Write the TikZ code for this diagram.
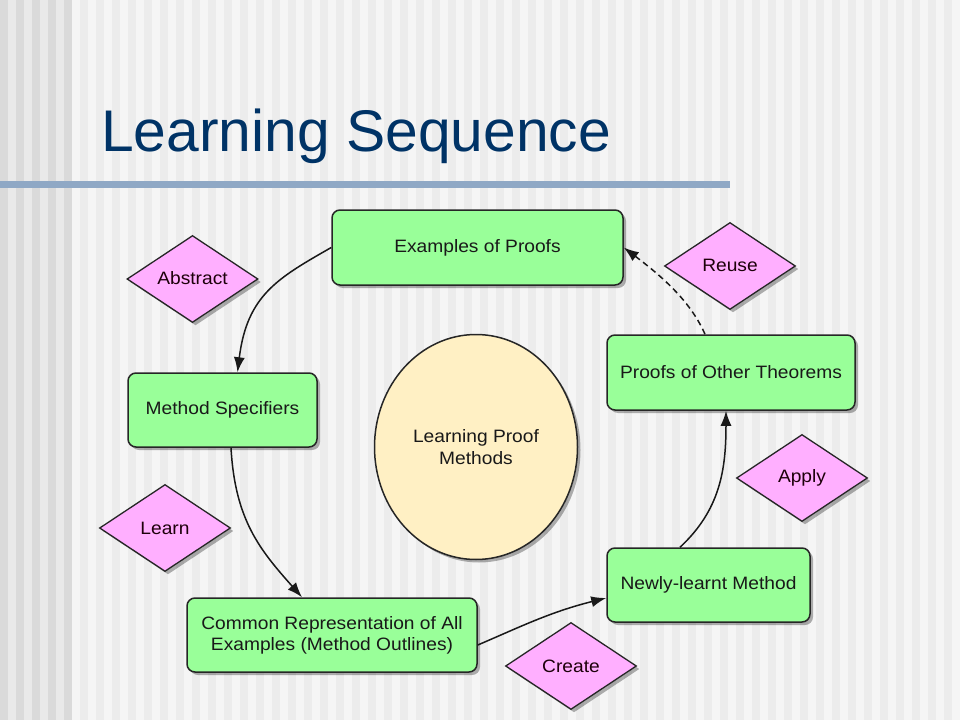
\documentclass[tikz,border=0pt]{standalone}
\usepackage{fontspec}
\setmainfont{Liberation Sans}
\newfontfamily\boxfont[FakeStretch=1.07]{Liberation Sans}
\usetikzlibrary{shapes.geometric,shadows,arrows.meta}
\definecolor{boxgreen}{RGB}{153,255,153}
\definecolor{diapink}{RGB}{255,175,255}
\definecolor{ellyellow}{RGB}{255,240,196}
\definecolor{titleblue}{RGB}{0,51,102}
\definecolor{rulecol}{RGB}{143,168,197}
\definecolor{leftdark}{RGB}{218,218,218}
\definecolor{leftlight}{RGB}{233,233,233}
\definecolor{bglight}{RGB}{245,245,245}
\definecolor{bggray}{RGB}{236,236,236}
\definecolor{textdark}{RGB}{25,25,25}
\tikzset{
  shad/.style={drop shadow={shadow xshift=3bp,shadow yshift=-3bp,fill=black,opacity=0.3}},
  greenbox/.style={rectangle, rounded corners=8bp, draw=black!85, line width=1.5bp,
    fill=boxgreen, shad, inner sep=0pt, align=center, text=textdark,
    font=\boxfont\fontsize{18}{21}\selectfont},
  pinkdia/.style={diamond, draw=black!85, line width=1.3bp, fill=diapink, shad,
    inner sep=0pt, minimum width=131bp, minimum height=87bp, text=black!85!purple,
    font=\boxfont\fontsize{18}{21}\selectfont},
  conn/.style={draw=black!90, line width=1.5bp, -{Latex[length=15bp,width=11bp]}},
}
\begin{document}
\begin{tikzpicture}[x=1bp,y=-1bp]
\useasboundingbox (0,0) rectangle (960,720);
% background stripes
\fill[leftlight] (0,0) rectangle (72,720);
\foreach \i in {0,16,...,64} \fill[leftdark] (\i,0) rectangle ++(8,720);
\fill[bglight] (72,0) rectangle (960,720);
\foreach \i in {80,96,...,944} \fill[bggray] (\i,0) rectangle ++(8,720);
% title and rule
\node[anchor=base west, inner sep=0pt, text=titleblue,
  font=\fontsize{59}{60}\selectfont] (title) at (101,152) {Learning Sequence};
\fill[rulecol] (0,181) rectangle (730,188);
% boxes
\node[greenbox, minimum width=291bp, minimum height=75bp] (ex) at (477.5,247.5) {Examples of Proofs};
\node[greenbox, minimum width=189bp, minimum height=74bp] (ms) at (222.5,410) {Method Specifiers};
\node[greenbox, minimum width=290bp, minimum height=74bp] (cr) at (332,635) {Common Representation of All\\Examples (Method Outlines)};
\node[greenbox, minimum width=203bp, minimum height=74bp] (nl) at (708.5,585) {Newly-learnt Method};
\node[greenbox, minimum width=248bp, minimum height=75bp] (po) at (731,372.5) {Proofs of Other Theorems};
% ellipse
\node[ellipse, draw=black!85, line width=1.5bp, fill=ellyellow, shad, inner sep=0pt,
  minimum width=203bp, minimum height=225bp, align=center, text=textdark,
  font=\boxfont\fontsize{18}{22}\selectfont] (lp) at (476,447) {Learning Proof\\Methods};
% diamonds
\node[pinkdia] (abs) at (192.5,279) {\raisebox{2bp}{Abstract}};
\node[pinkdia] (reu) at (730,266) {\raisebox{2bp}{Reuse}};
\node[pinkdia] (lea) at (165,528) {Learn};
\node[pinkdia] (app) at (802,478) {Apply};
\node[pinkdia] (cre) at (571,666) {Create};
% connectors
\draw[conn] (ex.west) .. controls (278,278) and (247,295) .. ([xshift=15bp]ms.north);
\draw[conn] ([xshift=8.5bp]ms.south) .. controls (235,520) and (260,550) .. ([xshift=-30bp]cr.north);
\draw[conn] ([yshift=-10bp]cr.east) .. controls (520,627) and (550,612) .. ([yshift=-13bp]nl.west);
\draw[conn] ([xshift=-28.5bp]nl.north) .. controls (720,510) and (726,470) .. ([xshift=-5bp]po.south);
\draw[conn, dash pattern=on 6bp off 4bp] ([xshift=-26bp]po.north) .. controls (690,300) and (660,275) .. (ex.east);
\end{tikzpicture}
\end{document}
